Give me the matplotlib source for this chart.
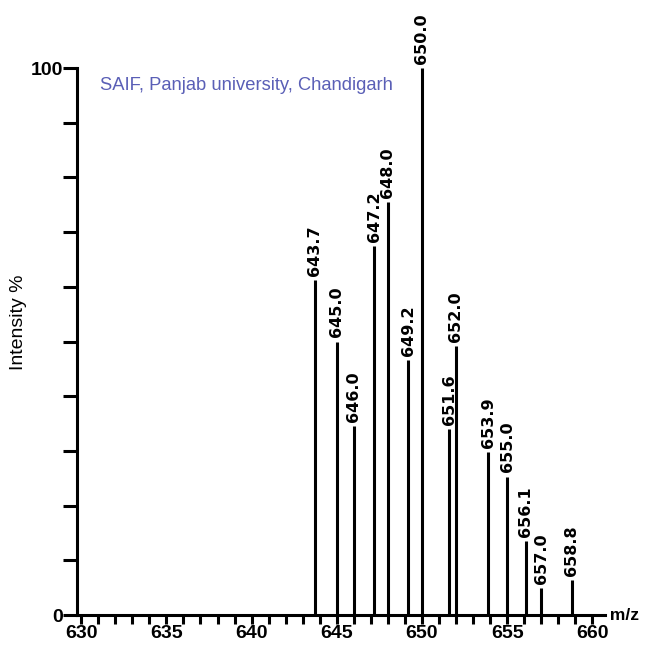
import matplotlib
matplotlib.use("Agg")
import matplotlib.pyplot as plt
from matplotlib.ticker import MultipleLocator

# Data
mz = [643.7, 645.0, 646.0, 647.2, 648.0, 649.2, 650.0, 651.6, 652.0,
      653.9, 655.0, 656.1, 657.0, 658.8]
intensity = [61.2, 50.0, 34.6, 67.5, 75.5, 46.6, 100.0, 34.0, 49.2,
             29.8, 25.3, 13.5, 4.9, 6.4]
peak_labels = ["643.7", "645.0", "646.0", "647.2", "648.0", "649.2", "650.0",
               "651.6", "652.0", "653.9", "655.0", "656.1", "657.0", "658.8"]
x_ticks = [630, 635, 640, 645, 650, 655, 660]
y_tick_labels = {0: "0", 100: "100"}
annotation = "SAIF, Panjab university, Chandigarh"

fig = plt.figure(figsize=(6.47, 6.47), dpi=100)
ax = fig.add_axes([77/647, 1 - 615/647, (605 - 77)/647, (615 - 68)/647])

ax.vlines(mz, 0, intensity, colors="black", linewidth=2.2, clip_on=False)
for x, y, lab in zip(mz, intensity, peak_labels):
    ax.annotate(lab, (x, y), xytext=(0, 3), textcoords="offset points",
                rotation=90, ha="center", va="bottom",
                fontfamily="DejaVu Sans", fontweight="bold", fontsize=11.5)

ax.set_xlim(629.75, 660.75)
ax.set_ylim(0, 100)

for s in ["top", "right"]:
    ax.spines[s].set_visible(False)
for s in ["left", "bottom"]:
    ax.spines[s].set_linewidth(2.2)

ax.set_xticks(x_ticks)
ax.xaxis.set_minor_locator(MultipleLocator(1))
ax.set_xticklabels([str(t) for t in x_ticks], fontfamily="Liberation Sans",
                   fontweight="bold", fontsize=14)
ax.tick_params(axis="x", which="both", direction="out", length=6.5, width=2.2, pad=1)

ax.set_yticks(range(0, 101, 10))
ax.set_yticklabels([y_tick_labels.get(v, "") for v in range(0, 101, 10)],
                   fontfamily="Liberation Sans", fontweight="bold", fontsize=14)
ax.tick_params(axis="y", which="major", direction="out", length=10, width=2.2, pad=0)

ax.set_ylabel("Intensity %", fontfamily="Liberation Sans", fontsize=14)
ax.yaxis.set_label_coords((27 - 77) / 528, (615 - 322) / 547)

ax.text(1.0, 0.0, " m/z", transform=ax.transAxes, ha="left", va="center",
        fontfamily="Liberation Sans", fontweight="bold", fontsize=12.5)

fig.text(100/647, 1 - 85/647, annotation, ha="left", va="center",
         color="#5a5fb6", fontfamily="Liberation Sans", fontsize=13.2)

fig.savefig("out.png", dpi=100, facecolor="white")
